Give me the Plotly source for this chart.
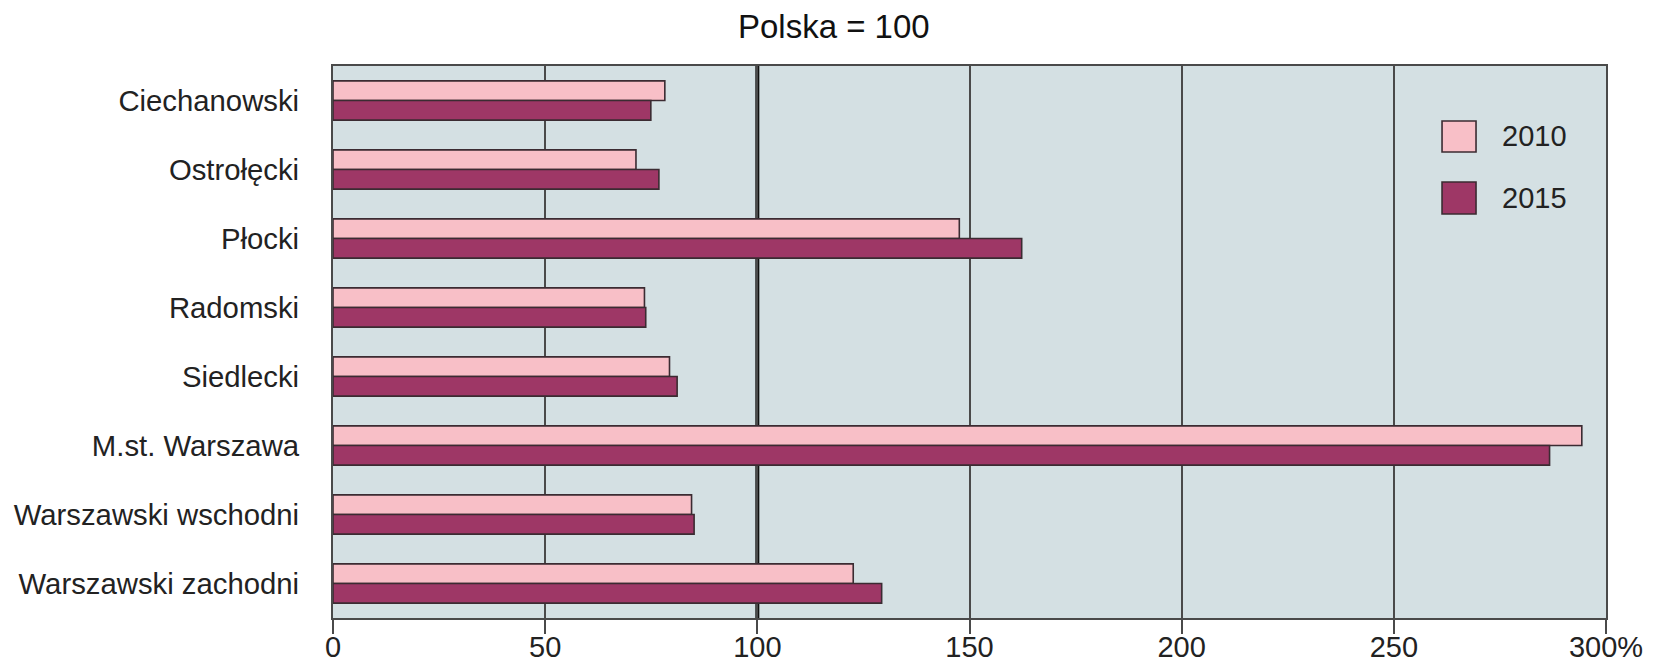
import plotly.graph_objects as go

categories = ["Ciechanowski", "Ostrołęcki", "Płocki", "Radomski", "Siedlecki",
              "M.st. Warszawa", "Warszawski wschodni", "Warszawski zachodni"]
values_2010 = [78.2, 71.4, 147.6, 73.4, 79.3, 294.3, 84.5, 122.6]
values_2015 = [74.9, 76.8, 162.3, 73.7, 81.1, 286.7, 85.1, 129.3]
series_names = ["2010", "2015"]
x_tickvals = [0, 50, 100, 150, 200, 250, 300]
x_ticktext = ["0", "50", "100", "150", "200", "250", "300%"]
reference_value = 100

col_2010 = "#f8bfc7"
col_2015 = "#9e3766"
edge = "#3b2b32"
grid = "#4a4a4a"
font_family = "Liberation Sans, Arial, sans-serif"

W, H = 1661, 665

fig = go.Figure()
for name, vals, col in [(series_names[0], values_2010, col_2010),
                        (series_names[1], values_2015, col_2015)]:
    fig.add_trace(go.Bar(
        y=categories, x=vals, name=name, orientation="h",
        marker=dict(color=col, line=dict(color=edge, width=1.6)),
        showlegend=False, hoverinfo="skip",
    ))

# reference line at 100
fig.add_shape(type="line", xref="x", yref="paper", x0=reference_value, x1=reference_value,
              y0=0, y1=1, line=dict(color="#111111", width=4), layer="below")

# custom legend
legend_items = [(series_names[0], col_2010, 0.8442, 0.9004, 0.873),
                (series_names[1], col_2015, 0.7319, 0.7899, 0.761)]
for name, col, y0, y1, yt in legend_items:
    fig.add_shape(type="rect", xref="paper", yref="paper", x0=0.8712, x1=0.8979,
                  y0=y0, y1=y1, fillcolor=col, line=dict(color=edge, width=1.6))
    fig.add_annotation(xref="paper", yref="paper", x=0.917, y=yt, text=name,
                       showarrow=False, xanchor="left", yanchor="middle",
                       font=dict(size=29, color="#222222", family=font_family))

fig.update_layout(
    width=W, height=H,
    margin=dict(l=333, r=55, t=66, b=47),
    paper_bgcolor="white",
    plot_bgcolor="#d4e0e3",
    barmode="group", bargap=0.43, bargroupgap=0,
    font=dict(family=font_family, size=29, color="#222222"),
    title=dict(text="Polska = 100", x=0.502, xref="container", xanchor="center",
               y=1 - 26 / H, yref="container", yanchor="middle",
               font=dict(size=33, color="#111111", family=font_family)),
    xaxis=dict(range=[0, 300], tickvals=x_tickvals, ticktext=x_ticktext,
               showgrid=True, gridcolor=grid, gridwidth=2,
               showline=True, linecolor=grid, linewidth=2, mirror=True,
               ticks="outside", ticklen=14, tickwidth=2, tickcolor=grid,
               ticklabelstandoff=-12,
               zeroline=False, automargin=False,
               tickfont=dict(size=29, color="#222222")),
    yaxis=dict(autorange="reversed", showgrid=False, zeroline=False,
               showline=True, linecolor=grid, linewidth=2, mirror=True,
               ticks="outside", ticklen=26, tickcolor="rgba(0,0,0,0)",
               automargin=False,
               tickfont=dict(size=29.3, color="#222222")),
)

# remove the browser's default 8px body margin so the figure fills the window exactly
fig.write_html("out.html",
               config={"displayModeBar": False, "staticPlot": True},
               post_script="document.body.style.margin='0';document.body.style.overflow='hidden';")
